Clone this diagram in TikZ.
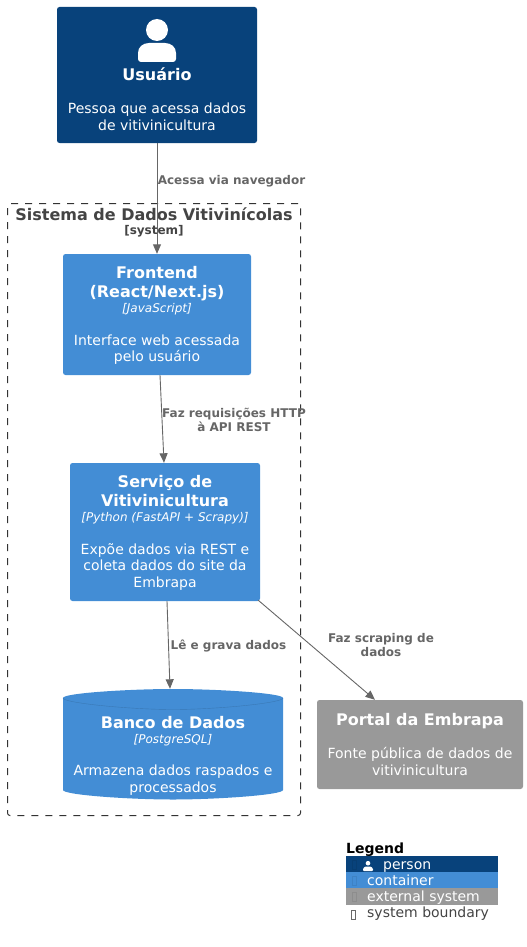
\documentclass[tikz,border=0pt]{standalone}
\usepackage{fontspec}
\setmainfont{DejaVu Sans}
\usetikzlibrary{arrows.meta}
\definecolor{personblue}{HTML}{08427B}
\definecolor{containerblue}{HTML}{438DD5}
\definecolor{extgray}{HTML}{999999}
\definecolor{boundarygray}{HTML}{444444}
\definecolor{relgray}{HTML}{666666}
\newcommand{\titlefont}{\fontsize{16}{19}\bfseries\selectfont}
\newcommand{\techfont}{\fontsize{12}{14}\itshape\selectfont}
\tikzset{
	elembox/.style={rounded corners=2.5pt,text=white,align=center,inner sep=0pt,font=\fontsize{14}{16.5}\selectfont},
	rel/.style={draw=relgray,-{Triangle[length=9.5pt,width=8pt]},line width=0.9pt},
	rellabel/.style={text=relgray,align=center,inner sep=0pt,font=\fontsize{12}{14}\bfseries\selectfont},
	legendrow/.style={minimum width=152pt,minimum height=16.3pt,inner sep=0pt},
	legendtext/.style={anchor=base west,inner sep=0pt,font=\fontsize{14}{16}\selectfont},
	tofu/.style={draw,line width=0.5pt}
}
\begin{document}
\begin{tikzpicture}[x=1pt,y=-1pt]
	\useasboundingbox (0,0) rectangle (527,947);
	
	\node[draw=black!80,dash pattern=on 7pt off 7pt,line width=1pt,rounded corners=2.5pt,minimum width=293pt,minimum height=612pt,inner sep=0pt] (sistema) at (154,509.5) {};
	\node[text=boundarygray,inner sep=0pt,font=\fontsize{16}{19}\bfseries\selectfont] (sistematitle) at (154,214) {Sistema de Dados Vitivinícolas};
	\node[text=boundarygray,inner sep=0pt,font=\fontsize{12}{14}\bfseries\selectfont] (sistematag) at (154,231.5) {[system]};
	
	\node[elembox,fill=personblue,minimum width=200pt,minimum height=136pt] (usuario) at (157,75) {};
	\fill[white] (157,30) circle (11);
	\fill[white] (141,62) to[out=180,in=-90] (138,59) -- (138,53) .. controls (138,47) and (143,43) .. (149,43) -- (165,43) .. controls (171,43) and (176,47) .. (176,53) -- (176,59) to[out=-90,in=0] (173,62) -- cycle;
	\node[elembox] (usuariotext) at (157,99) {{\titlefont Usuário}\\[16.5pt]Pessoa que acessa dados\\de vitivinicultura};
	
	\node[elembox,fill=containerblue,minimum width=188pt,minimum height=121pt] (frontend) at (157,314.5) {};
	\node[elembox] (frontendtext) at (157,315.5) {{\titlefont Frontend}\\[2.5pt]{\titlefont (React/Next.js)}\\[-1.5pt]{\techfont [JavaScript]}\\[16pt]Interface web acessada\\pelo usuário};
	
	\node[elembox,fill=containerblue,minimum width=190pt,minimum height=138pt] (servico) at (165,532) {};
	\node[elembox] (servicotext) at (165,533) {{\titlefont Serviço de}\\[2.5pt]{\titlefont Vitivinicultura}\\[-1.5pt]{\techfont [Python (FastAPI + Scrapy)]}\\[16pt]Expõe dados via REST e\\coleta dados do site da\\Embrapa};
	
	\fill[containerblue] (63,698) .. controls (63,693) and (130,689) .. (173,689) .. controls (216,689) and (283,693) .. (283,698) -- (283,790) .. controls (283,795) and (216,799.5) .. (173,799.5) .. controls (130,799.5) and (63,795) .. (63,790) -- cycle;
	\draw[containerblue!85!black,line width=0.4pt] (63,698) .. controls (63,703) and (130,709.5) .. (173,709.5) .. controls (216,709.5) and (283,703) .. (283,698);
	\node[elembox,minimum width=220pt,minimum height=110.5pt] (banco) at (173,744.25) {};
	\node[elembox] (bancotext) at (173,755.5) {{\titlefont Banco de Dados}\\[-1.5pt]{\techfont [PostgreSQL]}\\[16pt]Armazena dados raspados e\\processados};
	
	\node[elembox,fill=extgray,minimum width=206pt,minimum height=89pt] (portal) at (420,744.5) {{\titlefont Portal da Embrapa}\\[16.5pt]Fonte pública de dados de\\vitivinicultura};
	
	\draw[rel] (usuario.south) -- (frontend.north);
	\draw[rel] ([xshift=3pt]frontend.south) -- ([xshift=-1pt]servico.north);
	\draw[rel] ([xshift=2pt]servico.south) -- ([xshift=-3pt]banco.north);
	\draw[rel] ([xshift=-2pt,yshift=1pt]servico.south east) -- ([xshift=-45pt]portal.north);
	
	\node[rellabel] (acessa) at (231.5,181) {Acessa via navegador};
	\node[rellabel] (requisicoes) at (234,419.5) {Faz requisições HTTP\\à API REST};
	\node[rellabel] (grava) at (228.5,645.5) {Lê e grava dados};
	\node[rellabel] (scraping) at (381,645) {Faz scraping de\\dados};
	
	\node[anchor=base west,inner sep=0pt,font=\fontsize{14}{16}\bfseries\selectfont] (legendtitle) at (346,853) {Legend};
	\node[legendrow,fill=personblue] (rowperson) at (422,864) {};
	\node[legendrow,fill=containerblue] (rowcontainer) at (422,880.2) {};
	\node[legendrow,fill=extgray] (rowexternal) at (422,896.4) {};
	\fill[white] (368,863.2) circle (2.3);
	\fill[white,rounded corners=1pt] (363,871) -- (363,868.5) -- (365,866.5) -- (371,866.5) -- (373,868.5) -- (373,871) -- cycle;
	\node[legendtext,text=white] (legperson) at (383,869) {person};
	\node[legendtext,text=white] (legcontainer) at (367,885) {container};
	\node[legendtext,text=white] (legexternal) at (367,901) {external system};
	\node[legendtext,text=boundarygray] (legboundary) at (367,917) {system boundary};
	\draw[tofu,draw=personblue!92!black] (352.5,860) rectangle (356.5,869);
	\draw[tofu,draw=containerblue!92!black] (352.5,876) rectangle (356.5,885.5);
	\draw[tofu,draw=extgray!92!black] (352.5,892.5) rectangle (356.5,901.5);
	\draw[tofu,draw=boundarygray!80] (351.5,910) rectangle (355.5,919);
\end{tikzpicture}
\end{document}
